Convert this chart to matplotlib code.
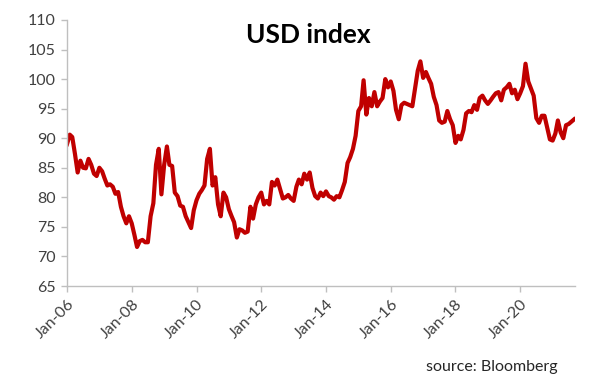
import numpy as np
import pandas as pd
import matplotlib
matplotlib.use('Agg')
import matplotlib.pyplot as plt
import matplotlib.dates as mdates

# ── Data: USD index, monthly readings (Jan 2006 – Sep 2021) ──────────────────
usd_2006 = [89.0, 90.6, 90.2, 87.3, 84.2, 86.2, 85.0, 84.9, 86.5, 85.5, 84.0, 83.6]
usd_2007 = [85.0, 84.4, 83.2, 82.0, 82.2, 81.8, 80.6, 80.9, 78.4, 76.8, 75.6, 76.8]
usd_2008 = [75.6, 73.6, 71.6, 72.6, 72.8, 72.4, 72.4, 76.8, 79.0, 85.5, 88.2, 80.5]
usd_2009 = [85.5, 88.6, 85.5, 85.3, 80.8, 80.2, 78.6, 78.4, 76.8, 75.8, 74.8, 77.8]
usd_2010 = [79.5, 80.6, 81.2, 82.0, 86.5, 88.2, 82.0, 83.4, 78.8, 76.8, 80.8, 80.0]
usd_2011 = [78.0, 76.8, 75.8, 73.2, 74.6, 74.4, 74.0, 74.2, 78.4, 76.4, 78.8, 80.0]
usd_2012 = [80.8, 78.8, 79.4, 78.8, 82.6, 82.0, 83.0, 81.4, 79.8, 80.0, 80.4, 79.8]
usd_2013 = [79.4, 81.8, 83.0, 82.2, 84.0, 83.0, 84.2, 81.6, 80.2, 79.8, 80.8, 80.2]
usd_2014 = [81.0, 80.2, 80.0, 79.6, 80.2, 80.0, 81.2, 82.6, 85.8, 86.8, 88.2, 90.4]
usd_2015 = [94.6, 95.4, 99.8, 94.0, 96.8, 95.4, 97.8, 95.4, 96.2, 96.8, 100.0, 98.6]
usd_2016 = [99.6, 98.0, 94.8, 93.2, 95.6, 96.0, 95.8, 95.6, 95.4, 98.4, 101.4, 103.0]
usd_2017 = [100.2, 101.2, 100.2, 99.2, 97.0, 95.6, 93.0, 92.6, 92.8, 94.6, 93.2, 92.2]
usd_2018 = [89.2, 90.4, 89.8, 91.4, 94.2, 94.6, 94.4, 95.6, 94.8, 96.8, 97.2, 96.4]
usd_2019 = [95.8, 96.4, 97.0, 97.6, 97.8, 96.4, 98.2, 98.6, 99.2, 97.6, 98.2, 96.6]
usd_2020 = [97.6, 98.8, 102.6, 99.6, 98.4, 97.2, 93.4, 92.6, 93.8, 93.8, 91.8, 89.8]
usd_2021 = [89.6, 90.8, 93.0, 91.0, 90.0, 92.2, 92.4, 92.8, 93.2]

usd = (usd_2006 + usd_2007 + usd_2008 + usd_2009 + usd_2010 + usd_2011 +
       usd_2012 + usd_2013 + usd_2014 + usd_2015 + usd_2016 + usd_2017 +
       usd_2018 + usd_2019 + usd_2020 + usd_2021)
dates = pd.date_range("2006-01-01", periods=len(usd), freq="MS")

y_ticks = list(range(65, 111, 5))
x_tick_years = [2006, 2008, 2010, 2012, 2014, 2016, 2018, 2020]

# ── Plot ─────────────────────────────────────────────────────────────────────
plt.rcParams['font.family'] = ['Lato', 'DejaVu Sans']

fig = plt.figure(figsize=(6.16, 3.84), dpi=100)
ax = fig.add_axes([0.1088, 0.2552, 0.8246, 0.6928])

ax.plot(dates, usd, color="#C00000", lw=3.0, solid_joinstyle="round")

ax.set_ylim(65, 110)
ax.set_yticks(y_ticks)
ax.set_xlim(pd.Timestamp("2006-01-01"), pd.Timestamp("2021-09-10"))
ax.set_xticks([pd.Timestamp(f"{y}-01-01") for y in x_tick_years])
ax.xaxis.set_major_formatter(mdates.DateFormatter("%b-%y"))

for lbl in ax.get_xticklabels():
    lbl.set_rotation(45)
    lbl.set_ha("right")
    lbl.set_rotation_mode("anchor")

for side in ["top", "right"]:
    ax.spines[side].set_visible(False)
for side in ["left", "bottom"]:
    ax.spines[side].set_color("#BFBFBF")
    ax.spines[side].set_linewidth(1.0)

ax.tick_params(axis="both", colors="#BFBFBF", labelcolor="#404040",
               labelsize=11.5, length=4, width=1.0)
ax.tick_params(axis="y", pad=4)
ax.tick_params(axis="x", pad=4)

fig.text(0.5, 0.909, "USD index", ha="center", va="center",
         fontsize=19, fontweight="bold", color="black")
fig.text(0.905, 0.044, "source: Bloomberg", ha="right", va="center",
         fontsize=11.5, color="#262626")

fig.savefig("out.png", dpi=100)
